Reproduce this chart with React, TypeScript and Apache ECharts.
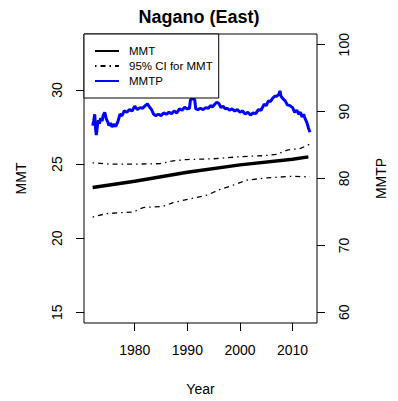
import React, { useEffect, useRef } from "react";
import * as echarts from "echarts";

const FONT = "Liberation Sans, Arial, Helvetica, sans-serif";

const xTicks = [1980, 1990, 2000, 2010];
const leftTicks = [15, 20, 25, 30];
const rightTicks = [60, 70, 80, 90, 100];

const mmtYears = [1972, 1980, 1990, 2000, 2010, 2013];
const mmtValues = [23.42, 23.85, 24.45, 24.95, 25.33, 25.49];

const ciUpperYears = [1972, 1975.3, 1980, 1984.8, 1987.3, 1989.8, 1994.9, 2000, 2004.5, 2007, 2009, 2011.5, 2013.3];
const ciUpperValues = [25.09, 25.0, 25.0, 25.03, 25.22, 25.31, 25.36, 25.5, 25.57, 25.66, 25.95, 26.06, 26.35];

const ciLowerYears = [1972, 1974.6, 1979.7, 1981.6, 1985.4, 1987.3, 1989.8, 1993.7, 1996.2, 1998.7, 2001.3, 2005, 2010, 2013.3];
const ciLowerValues = [21.43, 21.66, 21.77, 22.07, 22.15, 22.4, 22.6, 22.9, 23.29, 23.58, 23.92, 24.07, 24.18, 24.14];

const mmtpYears = [
  1972.0, 1972.2, 1972.4, 1972.55, 1972.7, 1972.9, 1973.1, 1973.3, 1973.5, 1973.8,
  1974.0, 1974.3, 1974.6, 1974.9, 1975.1, 1975.4, 1975.7, 1976.0, 1976.4, 1976.8,
  1977.2, 1977.6, 1978.0, 1978.5, 1979.0, 1979.5, 1980.0, 1980.5, 1981.0, 1981.5,
  1982.0, 1982.4, 1982.8, 1983.2, 1983.6, 1984.0, 1984.5, 1985.0, 1985.5, 1986.0,
  1986.5, 1987.0, 1987.5, 1988.0, 1988.5, 1989.0, 1989.5, 1990.0, 1990.4, 1990.6,
  1991.0, 1991.4, 1991.6, 1992.0, 1992.5, 1993.0, 1993.5, 1994.0, 1994.4, 1994.8,
  1995.2, 1995.6, 1996.0, 1996.4, 1996.8, 1997.2, 1997.6, 1998.0, 1998.5, 1999.0,
  1999.5, 2000.0, 2000.5, 2001.0, 2001.5, 2002.0, 2002.5, 2003.0, 2003.5, 2004.0,
  2004.6, 2005.0, 2005.4, 2005.8, 2006.2, 2006.6, 2007.0, 2007.4, 2007.6, 2007.8,
  2008.2, 2008.6, 2009.0, 2009.5, 2010.0, 2010.4, 2010.8, 2011.2, 2011.5, 2011.8,
  2012.1, 2012.4, 2012.7, 2013.0, 2013.3,
];
const mmtpValues = [
  87.9, 88.6, 89.6, 87.5, 86.5, 87.8, 88.7, 88.2, 89.0, 88.6,
  89.4, 89.9, 88.9, 88.4, 87.9, 88.3, 87.7, 88.1, 87.8, 88.5,
  89.6, 89.4, 90.1, 89.9, 90.3, 90.1, 90.8, 90.3, 90.6, 90.5,
  90.9, 91.15, 90.7, 90.3, 89.6, 89.4, 89.6, 89.4, 89.8, 89.6,
  89.9, 89.7, 90.1, 89.8, 90.4, 90.2, 90.65, 90.4, 90.5, 91.8,
  91.9, 91.8, 90.4, 90.3, 90.5, 90.3, 90.6, 90.5, 90.9, 90.7,
  91.1, 91.4, 91.2, 90.6, 90.8, 90.4, 90.5, 90.2, 90.4, 90.1,
  90.3, 89.9, 90.1, 89.65, 89.9, 89.5, 89.8, 89.7, 90.3, 90.2,
  91.1, 90.9, 91.6, 91.5, 92.0, 92.3, 92.3, 92.6, 93.1, 92.3,
  91.9, 91.6, 91.0, 90.9, 90.6, 89.9, 90.2, 89.6, 89.9, 89.2,
  89.6, 88.9, 88.4, 87.6, 86.9,
];

const pairs = (xs: number[], ys: number[]) => xs.map((x, i) => [x, ys[i]]);

export default function App() {
  const ref = useRef<HTMLDivElement>(null);
  useEffect(() => {
    if (!ref.current) return;
    const chart = echarts.init(ref.current, null, { renderer: "svg" });
    const axisText = { fontFamily: FONT, fontSize: 14, color: "#000" };
    const ciStyle = { color: "#000", width: 1.3, type: [1.5, 4, 5, 4] as any };
    chart.setOption({
      animation: false,
      backgroundColor: "#fff",
      title: {
        text: "Nagano (East)",
        left: "center",
        top: 8,
        padding: 0,
        textStyle: { fontFamily: FONT, fontSize: 18, fontWeight: "bold", color: "#000" },
      },
      legend: {
        left: 84,
        top: 34,
        orient: "vertical",
        padding: [11, 6, 11, 10],
        itemWidth: 24,
        itemHeight: 12,
        itemGap: 3,
        borderColor: "#000",
        borderWidth: 1,
        borderRadius: 0,
        backgroundColor: "#fff",
        itemStyle: { opacity: 0 },
        textStyle: { fontFamily: FONT, fontSize: 11.5, color: "#000", padding: [0, 0, 0, 5] },
        data: ["MMT", "95% CI for MMT", "MMTP"],
      },
      grid: {
        left: 84,
        right: 81,
        top: 34,
        bottom: 78,
        show: true,
        borderColor: "#000",
        borderWidth: 1,
        backgroundColor: "transparent",
      },
      xAxis: {
        type: "value",
        min: 1970.36,
        max: 2014.64,
        name: "Year",
        nameLocation: "middle",
        nameGap: 59,
        nameTextStyle: axisText,
        axisLine: { show: false },
        splitLine: { show: false },
        axisTick: { show: true, inside: false, length: 8, lineStyle: { color: "#000" }, customValues: xTicks },
        axisLabel: { ...axisText, margin: 20, customValues: xTicks, formatter: (v: number) => String(v) },
      },
      yAxis: [
        {
          type: "value",
          position: "left",
          min: 14.28,
          max: 33.78,
          name: "MMT",
          nameLocation: "middle",
          nameGap: 56,
          nameRotate: 90,
          nameTextStyle: axisText,
          axisLine: { show: false },
          splitLine: { show: false },
          axisTick: { show: true, inside: false, length: 8, lineStyle: { color: "#000" }, customValues: leftTicks },
          axisLabel: { ...axisText, rotate: 90, margin: 20, customValues: leftTicks, formatter: (v: number) => String(v) },
        },
        {
          type: "value",
          position: "right",
          min: 58.4,
          max: 101.6,
          name: "MMTP",
          nameLocation: "middle",
          nameGap: 57,
          nameRotate: 90,
          nameTextStyle: axisText,
          axisLine: { show: false },
          splitLine: { show: false },
          axisTick: { show: true, inside: false, length: 8, lineStyle: { color: "#000" }, customValues: rightTicks },
          axisLabel: { ...axisText, rotate: 90, margin: 20, customValues: rightTicks, formatter: (v: number) => String(v) },
        },
      ],
      series: [
        {
          name: "MMT",
          type: "line",
          yAxisIndex: 0,
          symbol: "none",
          data: pairs(mmtYears, mmtValues),
          lineStyle: { color: "#000", width: 3.5 },
          itemStyle: { color: "#000" },
        },
        {
          name: "95% CI for MMT",
          type: "line",
          yAxisIndex: 0,
          symbol: "none",
          data: pairs(ciUpperYears, ciUpperValues),
          lineStyle: ciStyle,
          itemStyle: { color: "#000" },
        },
        {
          name: "95% CI for MMT",
          type: "line",
          yAxisIndex: 0,
          symbol: "none",
          data: pairs(ciLowerYears, ciLowerValues),
          lineStyle: ciStyle,
          itemStyle: { color: "#000" },
        },
        {
          name: "MMTP",
          type: "line",
          yAxisIndex: 1,
          symbol: "none",
          data: pairs(mmtpYears, mmtpValues),
          lineStyle: { color: "#0000ff", width: 3 },
          itemStyle: { color: "#0000ff" },
        },
      ],
    });
    return () => chart.dispose();
  }, []);
  return (
    <div
      ref={ref}
      style={{ position: "fixed", left: 0, top: 0, width: 398, height: 401, background: "#fff" }}
    />
  );
}
